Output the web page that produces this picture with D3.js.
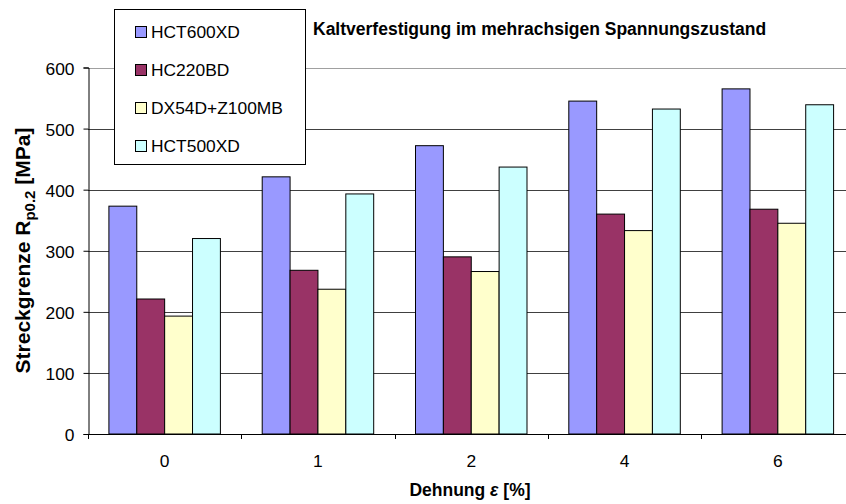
<!DOCTYPE html>
<html>
<head>
<meta charset="utf-8">
<script src="https://cdn.jsdelivr.net/npm/d3@7"></script>
<style>
  body { margin: 0; background: #fff; }
  svg { display: block; font-family: "Liberation Sans", Arial, sans-serif; }
</style>
</head>
<body>
<svg width="846" height="504"></svg>
<script>
// data
var categories = ["0", "1", "2", "4", "6"];
var seriesNames = ["HCT600XD", "HC220BD", "DX54D+Z100MB", "HCT500XD"];
var hct600xd = [373, 421, 472, 545, 565];
var hc220bd = [221, 268, 290, 360, 368];
var dx54d = [193, 237, 266, 333, 345];
var hct500xd = [320, 393, 437, 532, 539];
var colors = ["#9999ff", "#993366", "#ffffcc", "#ccffff"];
var yTicks = [0, 100, 200, 300, 400, 500, 600];

var svg = d3.select("svg");
// plot area edges (the last band runs past the window edge, as in the original)
var plotLeft = 88, plotRight = 854.5, plotTop = 67.5, plotBottom = 434;

var x = d3.scaleBand().domain(categories).range([plotLeft, plotRight]);
var xs = d3.scaleBand().domain(seriesNames)
  .range([0, x.bandwidth()]).paddingInner(0).paddingOuter(0.75);
var y = d3.scaleLinear().domain([0, 600]).range([plotBottom, plotTop]);

var table = categories.map(function(c, i){
  return { cat: c, vals: [hct600xd[i], hc220bd[i], dx54d[i], hct500xd[i]] };
});

// grid
svg.append("g").selectAll("line").data(yTicks.slice(1)).enter().append("line")
  .attr("x1", plotLeft).attr("x2", 846)
  .attr("y1", function(d){ return Math.round(y(d)) + 0.5; })
  .attr("y2", function(d){ return Math.round(y(d)) + 0.5; })
  .attr("stroke", function(d){ return d === 600 ? "#a0a0a0" : "#404040"; })
  .attr("stroke-width", 1);

// bars
var groups = svg.append("g").selectAll("g").data(table).enter().append("g")
  .attr("transform", function(d){ return "translate(" + x(d.cat) + ",0)"; });
groups.selectAll("rect").data(function(d){ return d.vals; }).enter().append("rect")
  .attr("x", function(d, i){ return xs(seriesNames[i]); })
  .attr("width", xs.bandwidth())
  .attr("y", function(d){ return y(d); })
  .attr("height", function(d){ return plotBottom - y(d); })
  .attr("fill", function(d, i){ return colors[i]; })
  .attr("stroke", "#000").attr("stroke-width", 1);

// axes
var yAxis = svg.append("g").attr("transform", "translate(" + (plotLeft + 0.5) + ",0)")
  .call(d3.axisLeft(y).tickValues(yTicks).tickSize(5).tickPadding(9));
var xAxis = svg.append("g").attr("transform", "translate(0," + (plotBottom + 0.5) + ")")
  .call(d3.axisBottom(x).tickSize(0).tickPadding(20));
[yAxis, xAxis].forEach(function(a){
  a.select(".domain").attr("stroke", "#000");
  a.selectAll("text").attr("font-size", 17.4).attr("fill", "#000")
    .attr("font-family", "Liberation Sans, Arial, sans-serif");
});
yAxis.selectAll("text").attr("dy", "0.4em");
xAxis.select(".domain").attr("d", "M" + plotLeft + ",0H846");
// category boundary ticks
svg.append("g").selectAll("line").data(categories).enter().append("line")
  .attr("x1", function(d){ return Math.round(x(d)) + 0.5; })
  .attr("x2", function(d){ return Math.round(x(d)) + 0.5; })
  .attr("y1", plotBottom).attr("y2", plotBottom + 5)
  .attr("stroke", "#000");

// titles
svg.append("text").attr("x", 313).attr("y", 35)
  .attr("font-size", 17.5).attr("font-weight", "bold")
  .text("Kaltverfestigung im mehrachsigen Spannungszustand");

var xt = svg.append("text").attr("x", 470).attr("y", 495.5)
  .attr("text-anchor", "middle").attr("font-size", 17.5).attr("font-weight", "bold");
xt.append("tspan").text("Dehnung ");
xt.append("tspan").attr("font-style", "italic").text("ε");
xt.append("tspan").text(" [%]");

var yt = svg.append("text")
  .attr("transform", "translate(30,250.5) rotate(-90)")
  .attr("text-anchor", "middle").attr("font-size", 21).attr("font-weight", "bold");
yt.append("tspan").text("Streckgrenze R");
yt.append("tspan").attr("font-size", 15).attr("dy", 5).text("p0.2");
yt.append("tspan").attr("dy", -5).text(" [MPa]");

// legend
var lg = svg.append("g");
lg.append("rect").attr("x", 114.5).attr("y", 9.5).attr("width", 191).attr("height", 155)
  .attr("fill", "#fff").attr("stroke", "#000");
var items = lg.selectAll("g").data(seriesNames).enter().append("g")
  .attr("transform", function(d, i){ return "translate(135," + (32 + i * 38) + ")"; });
items.append("rect").attr("x", 0.5).attr("y", -5.5).attr("width", 11).attr("height", 11)
  .attr("fill", function(d, i){ return colors[i]; }).attr("stroke", "#000");
items.append("text").attr("x", 16).attr("y", 5.5).attr("font-size", 17.4)
  .text(function(d){ return d; });
</script>
</body>
</html>
